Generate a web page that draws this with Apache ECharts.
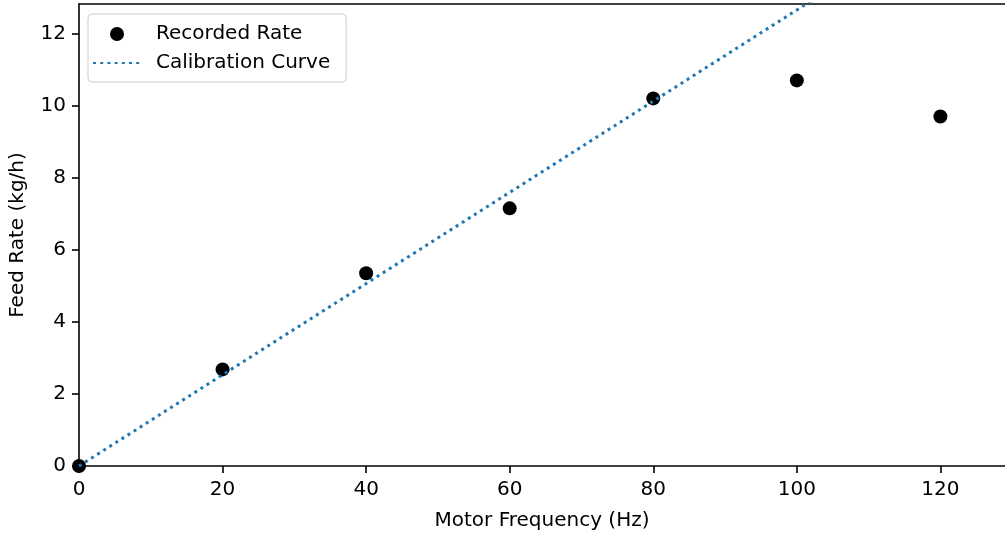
<!DOCTYPE html>
<html>
<head>
<meta charset="utf-8">
<script src="https://cdn.jsdelivr.net/npm/echarts@6/dist/echarts.min.js"></script>
<style>
    html, body { margin: 0; padding: 0; background: #fff; }
    #chart { width: 1005px; height: 536px; }
</style>
</head>
<body>
<div id="chart"></div>
<script>
    // measured points
    const freq = [0, 20, 40, 60, 80, 100, 120];
    const rate = [0, 2.68, 5.35, 7.15, 10.2, 10.7, 9.7];
    // calibration curve end points (straight line)
    const curveX = [0, 130];
    const curveY = [0, 16.45];

    const font = 'DejaVu Sans';

    let chart = echarts.init(document.getElementById('chart'));
    chart.setOption({
        animation: false,
        textStyle: { fontFamily: font },
        grid: { left: 78, right: 0, top: 4, bottom: 69 },
        legend: {
            orient: 'vertical',
            left: 88,
            top: 14,
            padding: [9, 16, 8, 4],
            itemWidth: 48,
            itemHeight: 14,
            itemGap: 7,
            borderColor: '#cccccc',
            borderWidth: 1,
            borderRadius: 4,
            backgroundColor: 'rgba(255,255,255,0.8)',
            textStyle: { fontFamily: font, fontSize: 20, color: '#000', lineHeight: 22, padding: [0, 0, 0, 10] },
            data: [
                { name: 'Recorded Rate', icon: 'circle' },
                { name: 'Calibration Curve', itemStyle: { opacity: 0 } }
            ]
        },
        xAxis: [{
            type: 'value',
            min: 0,
            max: 129,
            interval: 20,
            name: 'Motor Frequency (Hz)',
            nameLocation: 'middle',
            nameGap: 45,
            nameTextStyle: { fontFamily: font, fontSize: 20, color: '#000' },
            splitLine: { show: false },
            axisLine: { lineStyle: { color: '#000', width: 1.6 } },
            axisTick: { length: 7, lineStyle: { color: '#000', width: 1.6 } },
            axisLabel: { fontFamily: font, fontSize: 20, color: '#000', margin: 14, showMaxLabel: false }
        }, {
            type: 'value',
            position: 'top',
            min: 0,
            max: 129,
            axisLine: { show: true, onZero: false, lineStyle: { color: '#000', width: 1.6 } },
            axisTick: { show: false },
            axisLabel: { show: false },
            splitLine: { show: false }
        }],
        yAxis: {
            type: 'value',
            min: 0,
            max: 12.82,
            interval: 2,
            name: 'Feed Rate (kg/h)',
            nameLocation: 'middle',
            nameGap: 51,
            nameTextStyle: { fontFamily: font, fontSize: 20, color: '#000' },
            splitLine: { show: false },
            axisLine: { show: true, lineStyle: { color: '#000', width: 1.6 } },
            axisTick: { show: true, length: 7, lineStyle: { color: '#000', width: 1.6 } },
            axisLabel: { fontFamily: font, fontSize: 20, color: '#000', margin: 13, showMaxLabel: false }
        },
        series: [{
            name: 'Recorded Rate',
            type: 'scatter',
            symbol: 'circle',
            symbolSize: 14,
            itemStyle: { color: '#000', opacity: 1 },
            data: freq.map((f, i) => [f, rate[i]]),
            z: 2
        }, {
            name: 'Calibration Curve',
            type: 'line',
            symbol: 'none',
            clip: true,
            lineStyle: { color: '#1f77b4', width: 3, type: [3, 4.2] },
            itemStyle: { color: '#1f77b4' },
            data: curveX.map((x, i) => [x, curveY[i]]),
            z: 3
        }]
    });
</script>
</body>
</html>
